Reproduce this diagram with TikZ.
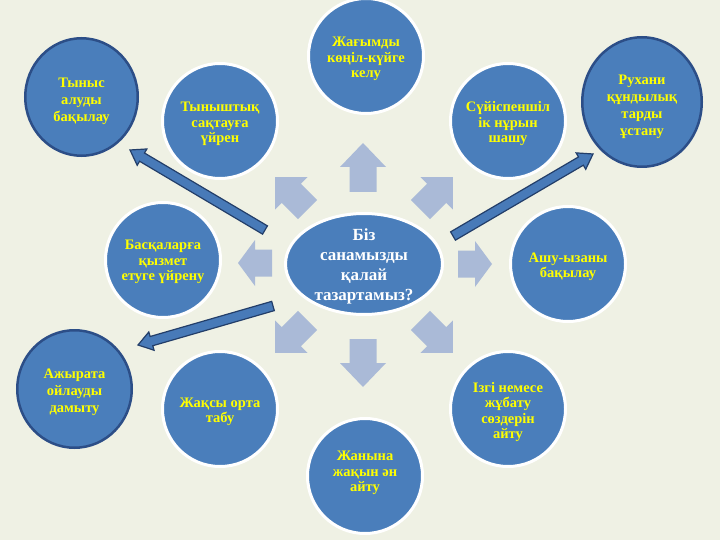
\documentclass[tikz,border=0pt]{standalone}
\usepackage{fontspec}
\setmainfont{Liberation Serif}
\usetikzlibrary{calc,shapes.geometric}
\definecolor{bg}{RGB}{239,241,228}
\definecolor{cfill}{RGB}{74,126,187}
\definecolor{larrow}{RGB}{170,186,215}
\definecolor{oborder}{RGB}{44,78,135}
\definecolor{txtyel}{RGB}{255,255,0}
\definecolor{darrowfill}{RGB}{72,122,184}
\definecolor{darrowline}{RGB}{35,62,105}
\newcommand{\blockarr}[5]{%
  \fill[larrow,shift={(#1,#2)},rotate=#3] (-#4/2,-13.5) -- ({#4/2-#5},-13.5) -- ({#4/2-#5},-23) -- (#4/2,0) -- ({#4/2-#5},23) -- ({#4/2-#5},13.5) -- (-#4/2,13.5) -- cycle;}
\newcommand{\longarr}[2]{%
  \coordinate (hb) at ($(#2)!14pt!(#1)$);
  \draw[darrowline, fill=darrowfill, line width=1.2pt, line join=miter]
    ($(#1)!4.8pt!90:(#2)$) -- ($(hb)!4.8pt!90:(#2)$) -- ($(hb)!9.5pt!90:(#2)$) -- (#2)
    -- ($(hb)!9.5pt!-90:(#2)$) -- ($(hb)!4.8pt!-90:(#2)$) -- ($(#1)!4.8pt!-90:(#2)$) -- cycle;}
\tikzset{
  sat/.style={circle, fill=cfill, draw=white, line width=3pt, minimum size=115pt, inner sep=0pt},
  stext/.style={inner sep=0pt, align=center, text=txtyel, font=\bfseries\fontsize{14.5}{15.5}\selectfont},
  outerc/.style={ellipse, fill=cfill, draw=oborder, line width=2.5pt, inner sep=0pt},
  otext/.style={inner sep=0pt, align=center, text=txtyel, font=\bfseries\fontsize{14.5}{17}\selectfont},
  hub/.style={ellipse, fill=cfill, draw=white, line width=3pt, inner sep=0pt,
    minimum width=157pt, minimum height=101pt},
  htext/.style={inner sep=0pt, align=center, text=white, font=\bfseries\fontsize{17}{20}\selectfont},
}
\begin{document}
\begin{tikzpicture}[x=1pt,y=-1pt]
\useasboundingbox (0,0) rectangle (720,540);
\fill[bg] (0,0) rectangle (720,540);
% light block arrows around the hub
\blockarr{363}{167.5}{90}{49}{24}
\blockarr{363}{363}{-90}{48}{24}
\blockarr{255}{263}{180}{34}{17}
\blockarr{475}{264}{0}{34}{17}
\blockarr{436.7}{193.3}{45}{46}{23}
\blockarr{291.3}{193.3}{135}{46}{23}
\blockarr{291.3}{336.7}{-135}{46}{23}
\blockarr{436.7}{336.7}{-45}{46}{23}
% satellites
\node[sat] (top) at (366,56) {};
\node[stext] (topt) at ($(top)+(0,3)$) {Жағымды\\көңіл-күйге\\келу};
\node[sat] (tr) at (508,121) {};
\node[stext] (trt) at ($(tr)+(0,3)$) {Сүйіспеншіл\\ік нұрын\\шашу};
\node[sat] (r) at (568,264) {};
\node[stext] (rt) at ($(r)+(0,3)$) {Ашу-ызаны\\бақылау};
\node[sat] (br) at (508,409) {};
\node[stext] (brt) at ($(br)+(0,3)$) {Ізгі немесе\\жұбату\\сөздерін\\айту};
\node[sat] (b) at (365,476) {};
\node[stext] (bt) at ($(b)+(0,-3)$) {Жанына\\жақын ән\\айту};
\node[sat] (bl) at (220,409) {};
\node[stext] (blt) at ($(bl)+(0,3)$) {Жақсы орта\\табу};
\node[sat] (l) at (163,260) {};
\node[stext] (lt) at ($(l)+(0,2)$) {Басқаларға\\қызмет\\етуге үйрену};
\node[sat] (tl) at (220,121) {};
\node[stext] (tlt) at ($(tl)+(0,3)$) {Тыныштық\\сақтауға\\үйрен};
% hub
\node[hub] (hub) at (364,264) {};
\node[htext] (hubt) at ($(hub)+(0,2)$) {Біз\\санамызды\\қалай\\тазартамыз?};
% outer circles
\node[outerc, minimum width=112.5pt, minimum height=117.5pt] (o1) at (81.5,97) {};
\node[otext] (o1t) at ($(o1)+(0,4)$) {Тыныс\\алуды\\бақылау};
\node[outerc, minimum width=119.5pt, minimum height=129.5pt] (o2) at (642,102) {};
\node[otext] (o2t) at ($(o2)+(0,5)$) {Рухани\\құндылық\\тарды\\ұстану};
\node[outerc, minimum width=114.5pt, minimum height=117.5pt] (o3) at (74.5,389) {};
\node[otext] (o3t) at ($(o3)+(0,3)$) {Ажырата\\ойлауды\\дамыту};
% long arrows
\coordinate (a1tail) at (265,230);
\coordinate (a1tip) at (130,150);
\coordinate (a2tail) at (453,236);
\coordinate (a2tip) at (593,154);
\coordinate (a3tail) at (273,306);
\coordinate (a3tip) at (138,345);
\longarr{a1tail}{a1tip}
\longarr{a2tail}{a2tip}
\longarr{a3tail}{a3tip}
\end{tikzpicture}
\end{document}
